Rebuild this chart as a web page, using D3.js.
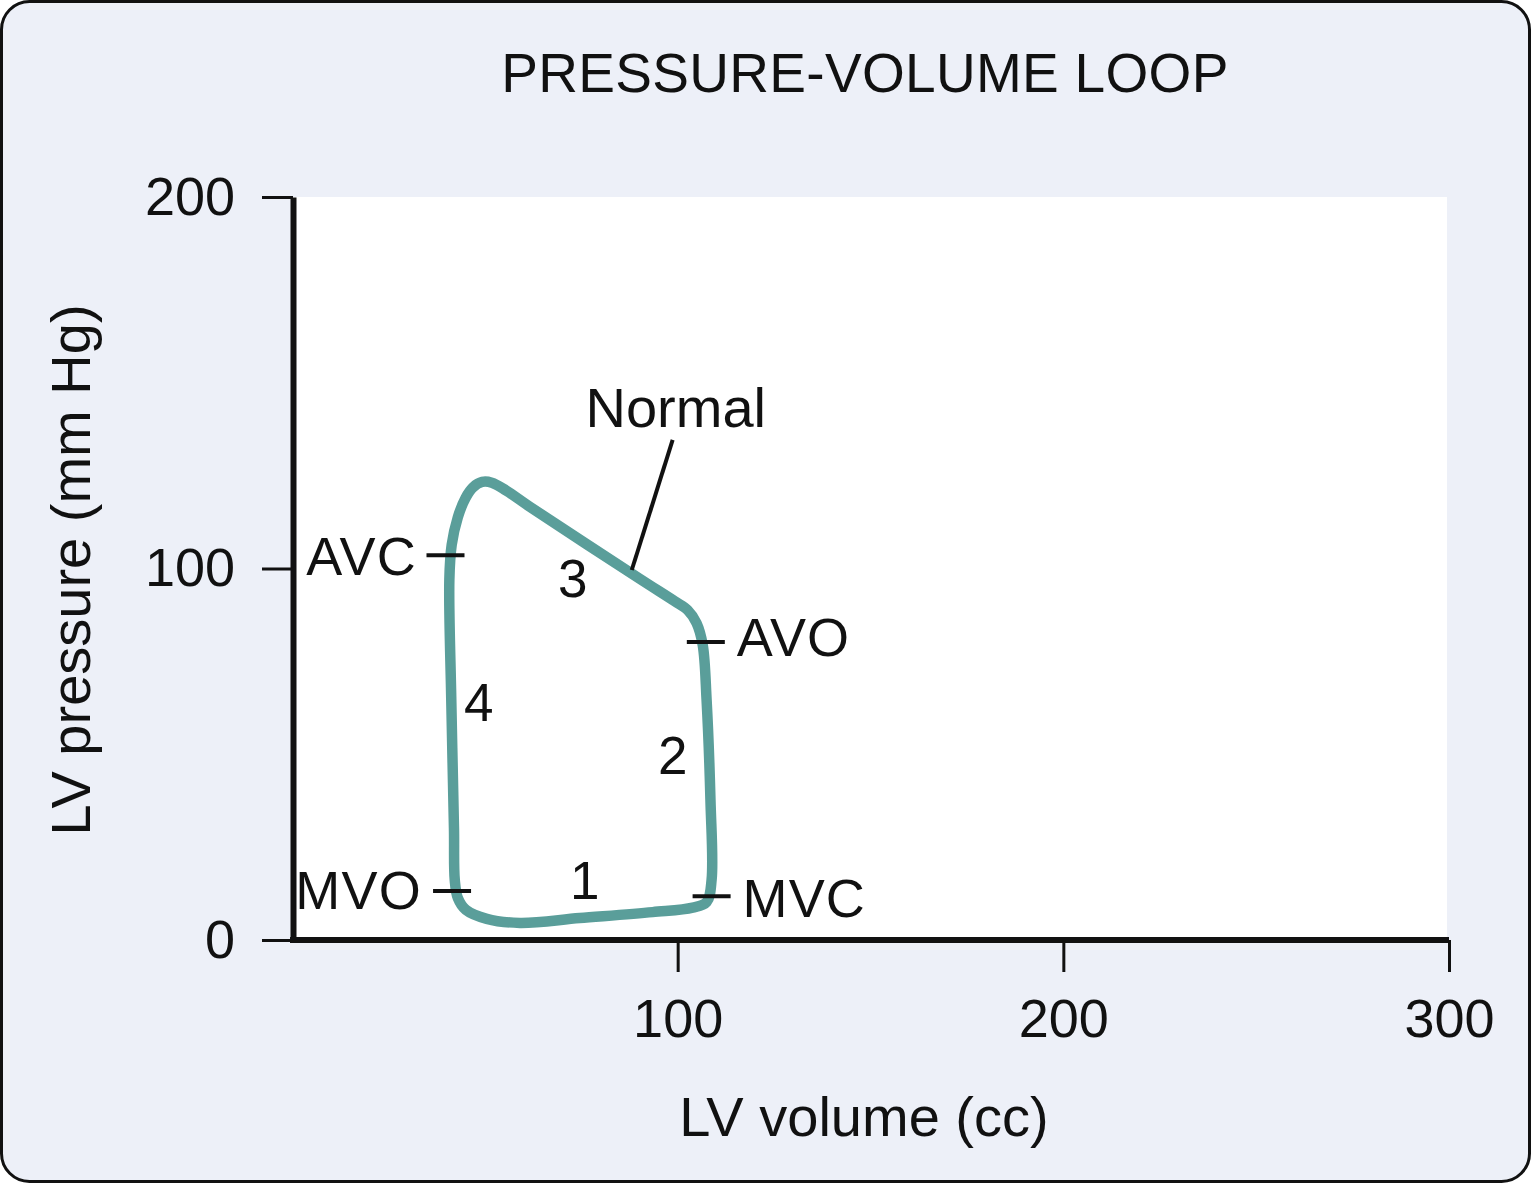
<!DOCTYPE html>
<html>
<head>
<meta charset="utf-8">
<script src="https://cdn.jsdelivr.net/npm/d3@7"></script>
<style>
  html, body { margin: 0; padding: 0; background: #ffffff; }
  svg { display: block; }
  text { font-family: "Liberation Sans", Arial, Helvetica, sans-serif; fill: #111; }
</style>
</head>
<body>
<svg id="chart" width="1531" height="1183"></svg>
<script>
// ---- Data ----
const chartTitle = "PRESSURE-VOLUME LOOP";
const xAxisTitle = "LV volume (cc)";
const yAxisTitle = "LV pressure (mm Hg)";
const xTicks = [100, 200, 300];
const yTicks = [0, 100, 200];

// Normal loop: LV volume (cc)
const loopVolume = [108.8, 108.5, 107.5, 106.5, 104.9, 102.6, 99.2, 90.2, 61.7, 55.5, 51.8, 49.3, 47.0, 45.0, 43.0, 41.4, 40.8, 41.3, 42.0, 42.2, 43.0, 45.1, 50.5, 59.1, 74.6, 93.5, 103.9, 107.5];
// Normal loop: LV pressure (mm Hg)
const loopPressure = [16.2, 37.7, 64.6, 79.4, 85.3, 88.8, 91.2, 97.2, 116.6, 121.0, 123.1, 123.3, 121.9, 119.0, 113.8, 106.3, 97.0, 64.6, 30.0, 16.2, 11.3, 8.1, 5.7, 4.6, 5.9, 7.5, 8.7, 10.2];

// Valve events
const valveNames = ["AVC", "MVO", "AVO", "MVC"];
const valveVolume = [39.8, 41.5, 107.3, 108.8];
const valvePressure = [103.6, 13.2, 80.2, 11.8];
const valveLabelVolume = [32.4, 33.7, 115.3, 116.8];
const valveLabelPressure = [103.6, 13.5, 81.6, 11.3];

// Phase numbers
const phaseNames = ["1", "2", "3", "4"];
const phaseVolume = [75.9, 98.7, 72.8, 48.4];
const phasePressure = [16.2, 49.8, 97.4, 64.1];

// Curve label
const curveName = "Normal";
const curveLabelVolume = 99.5, curveLabelPressure = 143.5;
const leaderVolume = [98.7, 88.1];
const leaderPressure = [134.6, 99.6];

// ---- Layout ----
const W = 1531, H = 1183;
const svg = d3.select("#chart");
const bg = "#edf0f8";
const teal = "#5a9e9a";

svg.append("rect").attr("x", 1.5).attr("y", 1.5).attr("width", W - 3).attr("height", H - 3)
  .attr("rx", 28).attr("ry", 28).attr("fill", bg).attr("stroke", "#111").attr("stroke-width", 3);

const x = d3.scaleLinear().domain([0, 300]).range([292, 1449]);
const y = d3.scaleLinear().domain([0, 200]).range([940, 197]);

// plot area
svg.append("rect").attr("x", x(0)).attr("y", y(200))
  .attr("width", 1447 - x(0)).attr("height", y(0) - y(200)).attr("fill", "#ffffff");

// title
svg.append("text").attr("x", 865).attr("y", 92).attr("text-anchor", "middle")
  .attr("font-size", 55).style("letter-spacing", "0.3px").text(chartTitle);

// axes
const yAxis = d3.axisLeft(y).tickValues(yTicks).tickSize(31).tickSizeOuter(0).tickPadding(27).tickFormat(d3.format("d"));
const gy = svg.append("g").attr("transform", `translate(${x(0) + 1},0)`).call(yAxis);
gy.select(".domain").attr("stroke", "#111").attr("stroke-width", 6);
gy.selectAll(".tick line").attr("stroke", "#111").attr("stroke-width", 3);
gy.selectAll(".tick text").attr("font-size", 54).attr("fill", "#111")
  .attr("font-family", "Liberation Sans, Arial, sans-serif");

const xAxis = d3.axisBottom(x).tickValues(xTicks).tickSize(32).tickSizeOuter(0).tickPadding(27).tickFormat(d3.format("d"));
const gx = svg.append("g").attr("transform", `translate(0,${y(0)})`).call(xAxis);
gx.select(".domain").attr("stroke", "#111").attr("stroke-width", 6).attr("d", `M${x(0) - 2},0H1449`);
gx.selectAll(".tick line").attr("stroke", "#111").attr("stroke-width", 3);
gx.selectAll(".tick text").attr("font-size", 54).attr("fill", "#111")
  .attr("font-family", "Liberation Sans, Arial, sans-serif");

// axis titles
svg.append("text").attr("x", 864).attr("y", 1136).attr("text-anchor", "middle")
  .attr("font-size", 56).text(xAxisTitle);
svg.append("text").attr("transform", "translate(90,570) rotate(-90)").attr("text-anchor", "middle")
  .attr("font-size", 56).text(yAxisTitle);

// loop
const pts = loopVolume.map((v, i) => [x(v), y(loopPressure[i])]);
const line = d3.line().curve(d3.curveCatmullRomClosed.alpha(0.5));
svg.append("path").attr("d", line(pts)).attr("fill", "none").attr("stroke", teal)
  .attr("stroke-width", 10.5).attr("stroke-linejoin", "round");

// valve ticks and labels
valveNames.forEach((n, i) => {
  const cx = x(valveVolume[i]), cy = y(valvePressure[i]);
  svg.append("line").attr("x1", cx - 19).attr("x2", cx + 19).attr("y1", cy).attr("y2", cy)
    .attr("stroke", "#111").attr("stroke-width", 4);
  svg.append("text").attr("x", x(valveLabelVolume[i])).attr("y", y(valveLabelPressure[i]))
    .attr("dy", "0.36em").attr("text-anchor", valveLabelVolume[i] < valveVolume[i] ? "end" : "start")
    .attr("font-size", 54).style("letter-spacing", "1.2px").text(n);
});

// phase numbers
phaseNames.forEach((n, i) => {
  svg.append("text").attr("x", x(phaseVolume[i])).attr("y", y(phasePressure[i]))
    .attr("dy", "0.36em").attr("text-anchor", "middle").attr("font-size", 53).text(n);
});

// curve label and leader line
svg.append("text").attr("x", x(curveLabelVolume)).attr("y", y(curveLabelPressure))
  .attr("dy", "0.36em").attr("text-anchor", "middle").attr("font-size", 56).text(curveName);
svg.append("line").attr("x1", x(leaderVolume[0])).attr("y1", y(leaderPressure[0]))
  .attr("x2", x(leaderVolume[1])).attr("y2", y(leaderPressure[1]))
  .attr("stroke", "#111").attr("stroke-width", 4);
</script>
</body>
</html>
